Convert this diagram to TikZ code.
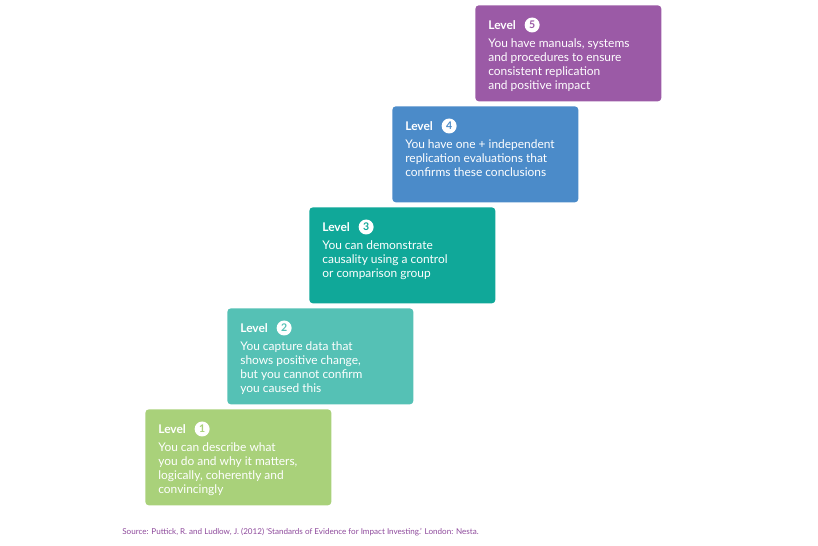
\documentclass[tikz,border=0pt]{standalone}
\usepackage{fontspec}
\setmainfont{Lato}
\usetikzlibrary{positioning}
\definecolor{lvlone}{HTML}{A9D17A}
\definecolor{lvltwo}{HTML}{55C1B5}
\definecolor{lvlthree}{HTML}{10A899}
\definecolor{lvlfour}{HTML}{4B8BC9}
\definecolor{lvlfive}{HTML}{9B5AA6}
\definecolor{srcpurple}{HTML}{8E4A9C}
\tikzset{
  levelbox/.style={fill=#1,rounded corners=2pt,minimum width=3.72cm,minimum height=1.92cm,anchor=north west,inner sep=0pt},
  levelname/.style={text=white,font=\bfseries\fontsize{6.8}{8}\selectfont,anchor=west,inner sep=0pt},
  levelnum/.style={circle,fill=white,text=#1,font=\bfseries\fontsize{6}{6}\selectfont,minimum size=0.3cm,inner sep=0pt},
  leveltext/.style={text=white,font=\fontsize{6.8}{8}\selectfont,align=left,anchor=north west,inner sep=0pt}
}
\begin{document}
\begin{tikzpicture}
  \useasboundingbox (0,0) rectangle (16.36,-10.92);
  \node [levelbox=lvlone] (b1) at (2.9,-8.18) {};
  \node [levelbox=lvltwo] (b2) at (4.54,-6.16) {};
  \node [levelbox=lvlthree] (b3) at (6.18,-4.14) {};
  \node [levelbox=lvlfour] (b4) at (7.84,-2.12) {};
  \node [levelbox=lvlfive] (b5) at (9.5,-0.1) {};
  \foreach \n/\c in {1/lvlone,2/lvltwo,3/lvlthree,4/lvlfour,5/lvlfive} {
    \node [levelname] (l\n) at ([xshift=0.26cm,yshift=-0.4cm]b\n.north west) {Level};
    \node [levelnum=\c,right=0.16cm of l\n] (c\n) {\n};
  }
  \node [leveltext] (t1) at ([xshift=0.26cm,yshift=-0.66cm]b1.north west)
    {You can describe what\\you do and why it matters,\\logically, coherently and\\convincingly};
  \node [leveltext] (t2) at ([xshift=0.26cm,yshift=-0.66cm]b2.north west)
    {You capture data that\\shows positive change,\\but you cannot confirm\\you caused this};
  \node [leveltext] (t3) at ([xshift=0.26cm,yshift=-0.66cm]b3.north west)
    {You can demonstrate\\causality using a control\\or comparison group};
  \node [leveltext] (t4) at ([xshift=0.26cm,yshift=-0.66cm]b4.north west)
    {You have one + independent\\replication evaluations that\\confirms these conclusions};
  \node [leveltext] (t5) at ([xshift=0.26cm,yshift=-0.66cm]b5.north west)
    {You have manuals, systems\\and procedures to ensure\\consistent replication\\and positive impact};
  % source line
  \node [text=srcpurple,font=\fontsize{4.6}{5}\selectfont,anchor=west,inner sep=0pt] (src) at (2.44,-10.64)
    {Source: Puttick, R. and Ludlow, J. (2012) ‘Standards of Evidence for Impact Investing.’ London: Nesta.};
\end{tikzpicture}
\end{document}
